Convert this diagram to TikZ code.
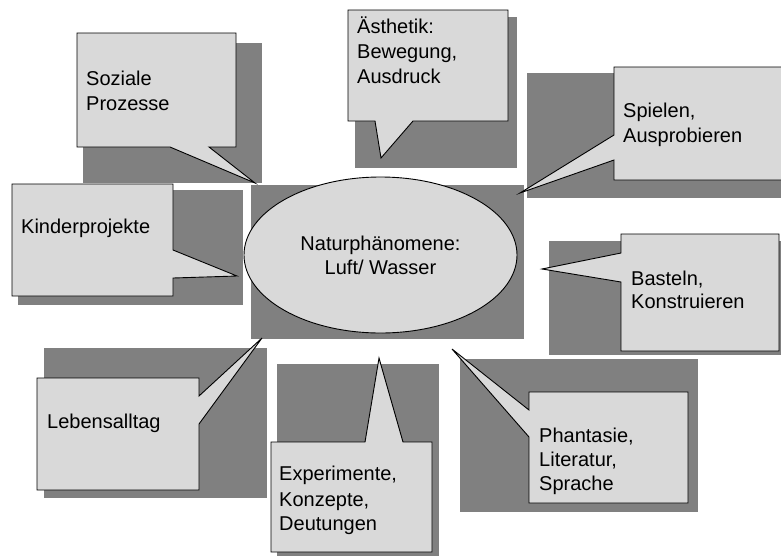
\documentclass[tikz,border=0pt]{standalone}
\usepackage{fontspec}
\setmainfont{Liberation Sans}
\definecolor{boxfill}{RGB}{217,217,217}
\definecolor{shade}{RGB}{128,128,128}
\tikzset{
  shadowbox/.style={fill=shade, draw=none},
  callout/.style={fill=boxfill, draw=black, line width=0.9pt, line join=miter},
  lbl/.style={anchor=base west, inner sep=0pt, font=\fontsize{20}{25}\selectfont, text=black},
  clbl/.style={anchor=base, inner sep=0pt, font=\fontsize{20}{25}\selectfont, text=black}
}
\begin{document}
\begin{tikzpicture}[x=1pt,y=-1pt]
\useasboundingbox (0,0) rectangle (781,555);
\fill[white] (0,0) rectangle (781,555);
% shadows
\fill[shadowbox] (83,43) rectangle (262,183);
\fill[shadowbox] (355,17) rectangle (517,168);
\fill[shadowbox] (527,73) rectangle (781,198);
\fill[shadowbox] (18,190) rectangle (243,305);
\fill[shadowbox] (251,185) rectangle (524,339);
\fill[shadowbox] (549,241) rectangle (781,355);
\fill[shadowbox] (44,348) rectangle (267,498);
\fill[shadowbox] (277,364) rectangle (439,556);
\fill[shadowbox] (460,359) rectangle (698,512);
% tail tips
\coordinate (tS) at (255,183);
\coordinate (tA) at (381,158);
\coordinate (tP) at (520,193);
\coordinate (tK) at (237,276);
\coordinate (tB) at (542,269);
\coordinate (tL) at (262,338);
\coordinate (tE) at (379,358);
\coordinate (tF) at (452,349);
% callouts
\draw[callout] (77,33) -- (236,33) -- (236,147) -- (209,147) -- (tS) -- (170,147) -- (77,147) -- cycle;
\draw[callout] (348,10) -- (508,10) -- (508,121) -- (413,121) -- (tA) -- (375,121) -- (348,121) -- cycle;
\draw[callout] (614,67) -- (790,67) -- (790,180) -- (614,180) -- (614,160) -- (tP) -- (614,135) -- cycle;
\draw[callout] (12,184) -- (173,184) -- (173,250) -- (tK) -- (173,278) -- (173,296) -- (12,296) -- cycle;
\draw[callout] (621,234) -- (779,234) -- (779,351) -- (621,351) -- (621,282) -- (tB) -- (621,253) -- cycle;
\draw[callout] (37,378) -- (199,378) -- (199,396) -- (tL) -- (199,424) -- (199,490) -- (37,490) -- cycle;
\draw[callout] (271,442) -- (365,442) -- (tE) -- (403,442) -- (432,442) -- (432,552) -- (271,552) -- cycle;
\draw[callout] (529,392) -- (688,392) -- (688,503) -- (529,503) -- (529,437) -- (tF) -- (529,410) -- cycle;
% central ellipse
\draw[callout] (380.5,255) ellipse[x radius=136.5, y radius=78];
% texts
\node[lbl] (s1) at (86,85) {Soziale};
\node[lbl] (s2) at (86,110) {Prozesse};
\node[lbl] (a1) at (357,33) {Ästhetik:};
\node[lbl] (a2) at (357,58) {Bewegung,};
\node[lbl] (a3) at (357,83) {Ausdruck};
\node[lbl] (p1) at (623,117) {Spielen,};
\node[lbl] (p2) at (623,142) {Ausprobieren};
\node[lbl] (k1) at (21,233) {Kinderprojekte};
\node[clbl] (n1) at (380.5,250) {Naturphänomene:};
\node[clbl] (n2) at (380.5,274) {Luft/ Wasser};
\node[lbl] (b1) at (631,285) {Basteln,};
\node[lbl] (b2) at (631,308) {Konstruieren};
\node[lbl] (l1) at (47,428) {Lebensalltag};
\node[lbl] (e1) at (279,480) {Experimente,};
\node[lbl] (e2) at (279,506) {Konzepte,};
\node[lbl] (e3) at (279,530) {Deutungen};
\node[lbl] (f1) at (539,442) {Phantasie,};
\node[lbl] (f2) at (539,466) {Literatur,};
\node[lbl] (f3) at (539,490) {Sprache};
\end{tikzpicture}
\end{document}
